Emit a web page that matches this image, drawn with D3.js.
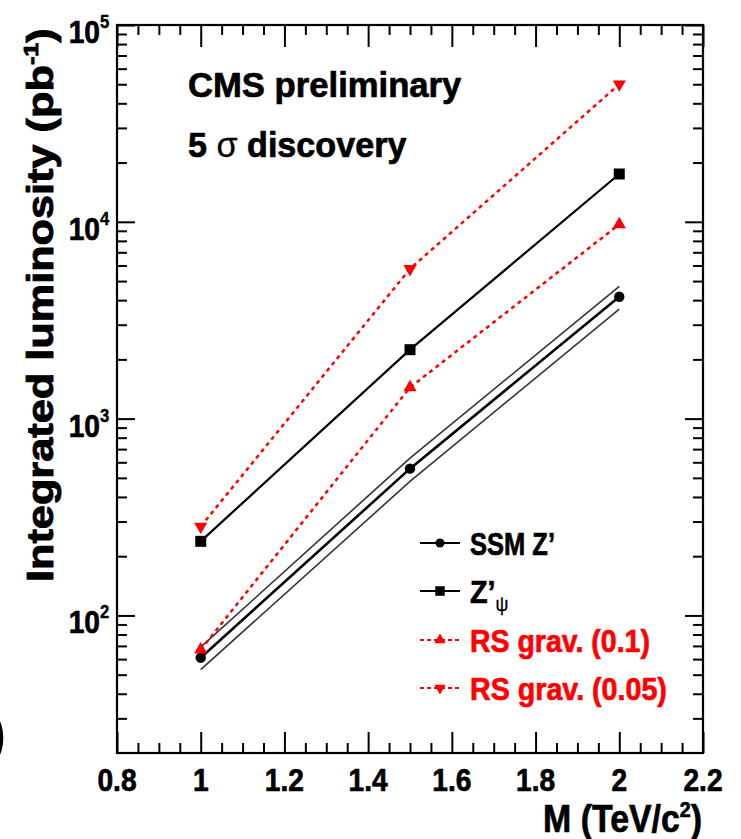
<!DOCTYPE html>
<html>
<head>
<meta charset="utf-8">
<script src="https://cdn.jsdelivr.net/npm/d3@7"></script>
<style>
  html, body { margin: 0; padding: 0; background: #fff; }
  svg { display: block; }
  text { font-family: "Liberation Sans", Arial, Helvetica, sans-serif; font-weight: bold; }
</style>
</head>
<body>
<script>
// Resonance mass points (TeV/c^2)
const massPoints = [1.0, 1.5, 2.0];

// Integrated luminosity needed for a 5 sigma discovery (pb^-1)
const ssmZprime  = [61, 557, 4160];
const ssmBandHigh = [69, 630, 4700];
const ssmBandLow  = [53, 480, 3600];
const zprimePsi  = [238, 2240, 17500];
const rsGrav01   = [67, 1440, 9700];
const rsGrav005  = [283, 5770, 50000];

// Axis ticks
const xMajorTicks = [0.8, 1.0, 1.2, 1.4, 1.6, 1.8, 2.0, 2.2];
const xTickLabels = ["0.8", "1", "1.2", "1.4", "1.6", "1.8", "2", "2.2"];
const yDecadeExponents = [2, 3, 4, 5];

const W = 741, H = 839;
const L = 117, R = 703, T = 25, B = 753;
const RED = "#ff0000";

const svg = d3.select("body").append("svg")
  .attr("width", W).attr("height", H)
  .attr("viewBox", `0 0 ${W} ${H}`);

svg.append("rect").attr("width", W).attr("height", H).attr("fill", "#fff");

const x = d3.scaleLinear().domain([0.8, 2.2]).range([L, R]);
const y = d3.scaleLog().domain([20, 1e5]).range([B, T]);

// minor ticks
const xMinorTicks = d3.range(0.8, 2.2001, 0.05).filter(v => Math.abs(v * 5 - Math.round(v * 5)) > 1e-6);
const yMajorVals = yDecadeExponents.map(e => Math.pow(10, e));
const yMinorVals = [];
for (let d = 1; d <= 4; d++) for (let m = 2; m <= 9; m++) {
  const v = m * Math.pow(10, d);
  if (v > 20.5 && v < 1e5) yMinorVals.push(v);
}

function styleAxis(g) {
  g.select(".domain").remove();
  g.selectAll(".tick line").attr("stroke", "#000").attr("stroke-width", 2);
}

// ticks on all four sides, pointing inward
svg.append("g").attr("transform", `translate(0,${B})`)
  .call(d3.axisBottom(x).tickValues(xMajorTicks).tickSize(-21).tickFormat("")).call(styleAxis);
svg.append("g").attr("transform", `translate(0,${B})`)
  .call(d3.axisBottom(x).tickValues(xMinorTicks).tickSize(-10).tickFormat("")).call(styleAxis);
svg.append("g").attr("transform", `translate(0,${T})`)
  .call(d3.axisTop(x).tickValues(xMajorTicks).tickSize(-22).tickFormat("")).call(styleAxis);
svg.append("g").attr("transform", `translate(0,${T})`)
  .call(d3.axisTop(x).tickValues(xMinorTicks).tickSize(-10).tickFormat("")).call(styleAxis);
svg.append("g").attr("transform", `translate(${L},0)`)
  .call(d3.axisLeft(y).tickValues(yMajorVals).tickSize(-18).tickFormat("")).call(styleAxis);
svg.append("g").attr("transform", `translate(${L},0)`)
  .call(d3.axisLeft(y).tickValues(yMinorVals).tickSize(-10).tickFormat("")).call(styleAxis);
svg.append("g").attr("transform", `translate(${R},0)`)
  .call(d3.axisRight(y).tickValues(yMajorVals).tickSize(-18).tickFormat("")).call(styleAxis);
svg.append("g").attr("transform", `translate(${R},0)`)
  .call(d3.axisRight(y).tickValues(yMinorVals).tickSize(-10).tickFormat("")).call(styleAxis);

// frame
svg.append("rect").attr("x", L).attr("y", T).attr("width", R - L).attr("height", B - T)
  .attr("fill", "none").attr("stroke", "#000").attr("stroke-width", 2.2);

// helper: place a text node and stretch it horizontally to a given width
function placeText(parent, tx, ty, opts) {
  const g = parent.append("g");
  const fill = opts.fill || "#000";
  const t = g.append("text").attr("x", 0).attr("y", 0)
    .attr("font-size", opts.size).attr("fill", fill)
    .attr("stroke", fill).attr("stroke-width", opts.heavy === undefined ? 0.7 : opts.heavy)
    .attr("stroke-linejoin", "round")
    .attr("text-anchor", opts.anchor || "start");
  opts.build(t);
  let k = opts.scale || 1;
  if (opts.width) {
    const w = t.node().getBBox().width;
    k = opts.width / w;
  }
  const rot = opts.rotate ? ` rotate(${opts.rotate})` : "";
  g.attr("transform", `translate(${tx},${ty})${rot} scale(${k},1)`);
  return g;
}

// x tick labels
xMajorTicks.forEach((v, i) => {
  placeText(svg, x(v), 791, { size: 32, anchor: "middle", scale: 0.88, build: t => t.text(xTickLabels[i]) });
});

// y tick labels: 10^n
yDecadeExponents.forEach(e => {
  const yy = y(Math.pow(10, e));
  placeText(svg, 100, yy + 18, { size: 32, anchor: "end", scale: 0.88, build: t => t.text("10") });
  placeText(svg, 100, yy + 3, { size: 19, anchor: "start", scale: 0.88, heavy: 0.4, build: t => t.text(String(e)) });
});

// axis titles
placeText(svg, 702, 832, {
  size: 38, anchor: "end", width: 159,
  build: t => {
    t.append("tspan").text("M (TeV/c");
    t.append("tspan").attr("font-size", 22).attr("dy", -15).text("2");
    t.append("tspan").attr("dy", 15).text(")");
  }
});
placeText(svg, 53, 582, {
  size: 36, anchor: "start", width: 554, rotate: -90, heavy: 0.9,
  build: t => {
    t.append("tspan").text("Integrated luminosity (pb");
    t.append("tspan").attr("font-size", 21).attr("dy", -15).text("-1");
    t.append("tspan").attr("dy", 15).text(")");
  }
});

// annotation
placeText(svg, 188, 97, { size: 35, width: 274, build: t => t.text("CMS preliminary") });
placeText(svg, 188, 157, {
  size: 35, width: 219,
  build: t => {
    t.append("tspan").text("5 ");
    t.append("tspan").attr("font-weight", "normal").attr("stroke-width", 0.3).text("σ");
    t.append("tspan").text(" discovery");
  }
});

// series
const line = d3.line().x(d => x(d[0])).y(d => y(d[1]));
const pts = vals => massPoints.map((m, i) => [m, vals[i]]);

const plot = svg.append("g");

// SSM Z' uncertainty band edges
[ssmBandHigh, ssmBandLow].forEach(v => {
  plot.append("path").attr("d", line(pts(v))).attr("fill", "none")
    .attr("stroke", "#333").attr("stroke-width", 1.6);
});

const series = [
  { vals: ssmZprime, color: "#000", dash: null, width: 2.6, sym: d3.symbolCircle, size: 85, rot: 0 },
  { vals: zprimePsi, color: "#000", dash: null, width: 2.2, sym: d3.symbolSquare, size: 121, rot: 0 },
  { vals: rsGrav01, color: RED, dash: "4,4", width: 2.5, sym: d3.symbolTriangle, size: 75, rot: 0 },
  { vals: rsGrav005, color: RED, dash: "4,4", width: 2.5, sym: d3.symbolTriangle, size: 75, rot: 180 }
];

series.forEach(s => {
  plot.append("path").attr("d", line(pts(s.vals))).attr("fill", "none")
    .attr("stroke", s.color).attr("stroke-width", s.width)
    .attr("stroke-dasharray", s.dash);
});
series.forEach(s => {
  plot.selectAll(null).data(pts(s.vals)).enter().append("path")
    .attr("d", d3.symbol().type(s.sym).size(s.size)())
    .attr("transform", d => `translate(${x(d[0])},${y(d[1])}) rotate(${s.rot})`)
    .attr("fill", s.color);
});

// legend
const legendRows = [
  { label: "SSM Z’", s: series[0], width: 85 },
  { label: "Z’", sub: "ψ", s: series[1], width: null },
  { label: "RS grav. (0.1)", s: series[2], width: 180 },
  { label: "RS grav. (0.05)", s: series[3], width: 197 }
];
const legendY = [543, 591, 640, 688];
legendRows.forEach((r, i) => {
  const ly = legendY[i];
  svg.append("line").attr("x1", 420).attr("x2", 460).attr("y1", ly).attr("y2", ly)
    .attr("stroke", r.s.color).attr("stroke-width", r.s.dash ? 2 : 2.2)
    .attr("stroke-dasharray", r.s.dash ? "4,3" : null);
  svg.append("path").attr("d", d3.symbol().type(r.s.sym).size(r.s.size * 0.75)())
    .attr("transform", `translate(440,${ly}) rotate(${r.s.rot})`).attr("fill", r.s.color);
  placeText(svg, 470, ly + 12, {
    size: 32, fill: r.s.color, width: r.width, scale: 0.9,
    build: t => {
      t.append("tspan").text(r.label);
      if (r.sub) t.append("tspan").attr("font-size", 20).attr("font-weight", "normal").attr("stroke-width", 0.3).attr("dy", 8).text(r.sub);
    }
  });
});

// partial glyph at the left border
svg.append("text").attr("x", -12).attr("y", 752).attr("font-size", 54).text(")");
</script>
</body>
</html>
